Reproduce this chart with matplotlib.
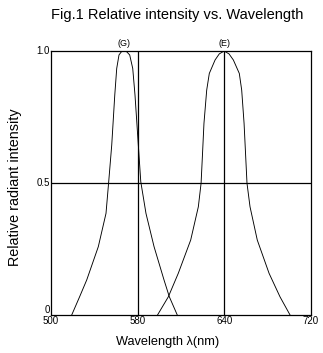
# Fig.1 Relative intensity vs. Wavelength

import numpy as np
import matplotlib
matplotlib.use("Agg")
import matplotlib.pyplot as plt

plt.rcParams['font.family'] = ['Liberation Sans', 'DejaVu Sans']

# x axis is not linear: the labelled wavelengths sit evenly spaced
tick_nm = [500, 580, 640, 720]
grid_nm = [580, 640]

# (G) curve
g_nm = [519.1, 526.5, 533.0, 543.7, 550.8, 553.3, 556.1, 558.9, 560.7, 562.8, 565.0, 567.5,
        570.0, 572.7, 575.5, 577.6, 580.5, 582.2, 585.8, 591.4, 598.3, 602.0, 607.5]
g_int = [0.0, 0.07, 0.133, 0.259, 0.385, 0.505, 0.644, 0.833, 0.934, 0.985, 0.997, 1.0,
         0.997, 0.985, 0.934, 0.833, 0.644, 0.505, 0.385, 0.259, 0.133, 0.069, 0.0]

# (E) curve
e_nm = [593.8, 601.3, 608.2, 616.8, 622.1, 624.0, 624.9, 626.0, 627.9, 629.7, 633.7, 636.6, 640.0,
        644.5, 648.5, 654.0, 656.2, 658.4, 659.9, 661.1, 663.9, 670.6, 681.5, 691.6, 700.9]
e_int = [0.0, 0.069, 0.158, 0.284, 0.41, 0.499, 0.6, 0.726, 0.852, 0.915, 0.966, 0.989, 1.0,
         0.989, 0.966, 0.915, 0.852, 0.726, 0.6, 0.499, 0.41, 0.284, 0.158, 0.069, 0.0]

y_ticks = [0, 0.5, 1.0]
y_labels = ['0', '0.5', '1.0']


def pos(nm):
    return np.interp(nm, tick_nm, np.arange(len(tick_nm)))


fig = plt.figure(figsize=(3.23, 3.53), dpi=100)
ax = fig.add_axes([0.158, 0.1076, 0.804, 0.7479])

ax.plot(pos(g_nm), g_int, color='black', lw=0.65)
ax.plot(pos(e_nm), e_int, color='black', lw=0.65)

for w in grid_nm:
    ax.axvline(pos(w), color='black', lw=0.9)
ax.axhline(0.5, color='black', lw=0.9)

ax.set_xlim(0, len(tick_nm) - 1)
ax.set_ylim(0, 1)
for s in ax.spines.values():
    s.set_linewidth(0.9)

ax.set_xticks(pos(tick_nm))
ax.set_xticklabels([str(t) for t in tick_nm], fontsize=7)
ax.set_yticks([])
ax.tick_params(axis='x', length=0, pad=1)

# y tick labels sit right against the frame
for v, lab in zip(y_ticks, y_labels):
    va = 'bottom' if v == 0 else 'center'
    ax.text(-0.005, v, lab, fontsize=7, ha='right', va=va,
            transform=ax.get_yaxis_transform())

# peak labels
ax.text(pos(567.5), 1.012, '(G)', fontsize=6.5, ha='center', va='bottom')
ax.text(pos(640), 1.012, '(E)', fontsize=6.5, ha='center', va='bottom')

fig.text(0.519, 0.031, 'Wavelength λ(nm)', fontsize=9.2, ha='center', va='center')
fig.text(0.047, 0.47, 'Relative radiant intensity', fontsize=10.4, rotation=90,
         ha='center', va='center')
fig.text(0.548, 0.958, 'Fig.1 Relative intensity vs. Wavelength', fontsize=10.5,
         ha='center', va='center')

fig.savefig('out.png', dpi=100)
